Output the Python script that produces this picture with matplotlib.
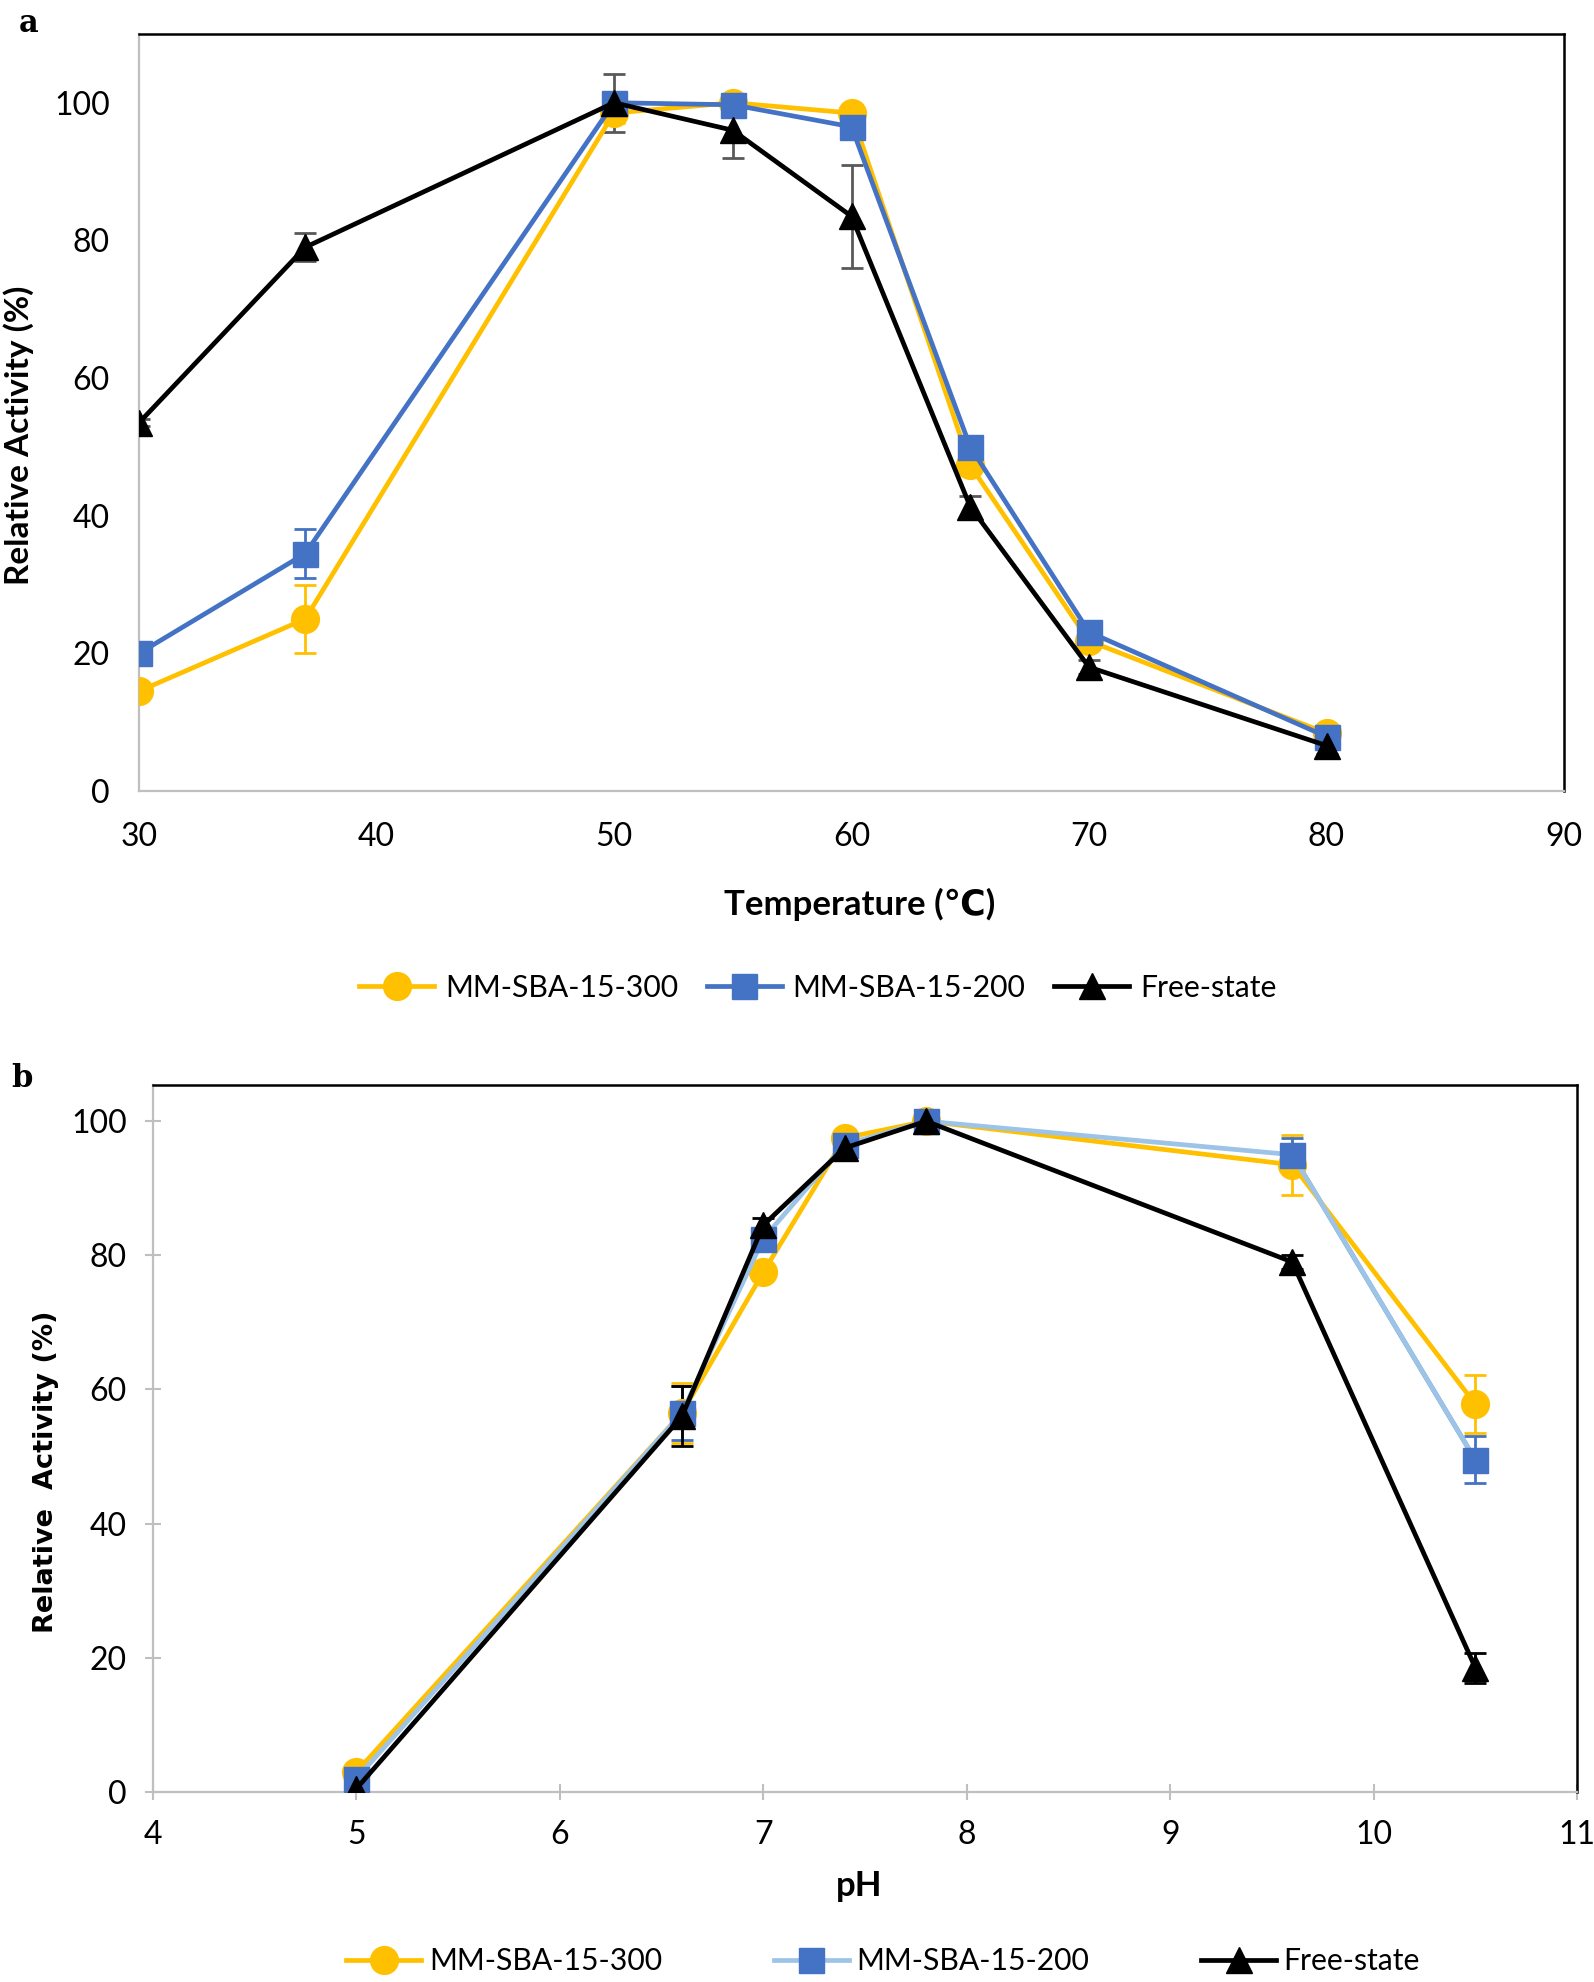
import matplotlib
matplotlib.use("Agg")
import matplotlib.pyplot as plt
from matplotlib import font_manager

# ---- data ----
temp = [30, 37, 50, 55, 60, 65, 70, 80]
temp_300 = [14.5, 25.0, 98.5, 100.0, 98.5, 47.3, 21.8, 8.4]
temp_300_err = [0.5, 5.0, 1.5, 1.0, 1.0, 1.0, 1.0, 1.0]
temp_200 = [20.0, 34.5, 100.0, 99.7, 96.5, 50.0, 23.1, 7.9]
temp_200_err = [0.5, 3.5, 1.0, 1.0, 1.5, 1.0, 1.0, 0.8]
temp_free = [53.5, 79.0, 100.0, 96.0, 83.5, 41.3, 18.0, 6.6]
temp_free_err = [0.5, 2.0, 4.2, 4.0, 7.5, 1.5, 1.0, 1.2]

ph = [5, 6.6, 7, 7.4, 7.8, 9.6, 10.5]
ph_300 = [3.0, 56.5, 77.5, 97.5, 100.0, 93.5, 57.8]
ph_300_err = [0.5, 4.5, 1.0, 1.0, 0.5, 4.5, 4.3]
ph_200 = [2.0, 56.5, 82.5, 96.5, 100.0, 95.0, 49.5]
ph_200_err = [0.5, 4.0, 1.5, 1.0, 0.5, 2.5, 3.5]
ph_free = [0.5, 56.0, 84.5, 96.0, 100.0, 79.0, 18.5]
ph_free_err = [0.3, 4.5, 1.0, 1.0, 0.5, 1.0, 2.2]

labels = ["MM-SBA-15-300", "MM-SBA-15-200", "Free-state"]

YELLOW = "#FFC000"
BLUE = "#4472C4"
LBLUE = "#9DC3E6"
MBLUE = "#5B9BD5"
GREY = "#BFBFBF"
ERRGREY = "#595959"


def has_font(name):
    try:
        font_manager.findfont(name, fallback_to_default=False)
        return True
    except Exception:
        return False


main_font = "Lato" if has_font("Lato") else "DejaVu Sans"
plt.rcParams["font.family"] = [main_font, "DejaVu Sans"]

FS = 23
LEG_FS = 21.7
LW = 3.4

fig = plt.figure(figsize=(15.94, 19.82), dpi=100)


def style_axes(ax, ticks):
    ax.spines["left"].set_color(GREY)
    ax.spines["bottom"].set_color(GREY)
    ax.spines["left"].set_linewidth(1.6)
    ax.spines["bottom"].set_linewidth(1.6)
    ax.spines["top"].set_color("black")
    ax.spines["right"].set_color("black")
    ax.spines["top"].set_linewidth(1.8)
    ax.spines["right"].set_linewidth(1.8)
    if ticks:
        ax.tick_params(axis="both", direction="inout", length=12, width=1.5,
                       color=GREY, labelsize=FS)
        ax.tick_params(axis="x", pad=14)
        ax.tick_params(axis="y", pad=13)
    else:
        ax.tick_params(axis="both", length=0, labelsize=FS)
        ax.tick_params(axis="x", pad=22)
        ax.tick_params(axis="y", pad=21)


def series(ax, x, y, err, color, marker, ms, errcolor, linecolor=None):
    lc = linecolor if linecolor else color
    h, = ax.plot(x, y, color=lc, lw=LW, marker=marker, ms=ms,
                 markerfacecolor=color, markeredgecolor=color, zorder=3)
    ax.errorbar(x, y, yerr=err, fmt="none", ecolor=errcolor, elinewidth=2,
                capsize=8, capthick=2, zorder=2.5)
    return h


# ---- panel a: temperature ----
ax1 = fig.add_axes([0.0872, 0.6009, 0.894, 0.382])
h1 = series(ax1, temp, temp_300, temp_300_err, YELLOW, "o", 20, YELLOW)
h2 = series(ax1, temp, temp_200, temp_200_err, BLUE, "s", 18, BLUE)
h3 = series(ax1, temp, temp_free, temp_free_err, "black", "^", 19, ERRGREY)
ax1.set_xlim(30, 90)
ax1.set_ylim(0, 110)
ax1.set_xticks(range(30, 91, 10))
ax1.set_yticks(range(0, 101, 20))
style_axes(ax1, False)
ax1.set_xlabel("Temperature (℃)", fontsize=25, fontweight="bold")
ax1.xaxis.set_label_coords(0.506, -0.128)
ax1.set_ylabel("Relative Activity (%)", fontsize=24, fontweight="bold")
ax1.yaxis.set_label_coords(-0.074, 0.47)
fig.text(0.012, 0.988, "a", fontsize=22, fontweight="bold",
         family="DejaVu Serif", va="center")

fig.legend([h1, h2, h3], labels, loc="center", bbox_to_anchor=(0.513, 0.5015),
           ncol=3, frameon=False, fontsize=LEG_FS, handlelength=2.5,
           handletextpad=0.35, columnspacing=0.95, borderpad=0)

# ---- panel b: pH ----
ax2 = fig.add_axes([0.096, 0.0959, 0.8934, 0.3567])
g1 = series(ax2, ph, ph_300, ph_300_err, YELLOW, "o", 20, YELLOW)
g2 = series(ax2, ph, ph_200, ph_200_err, BLUE, "s", 18, BLUE, linecolor=LBLUE)
ax2.plot(ph[-2:], ph_200[-2:], color=MBLUE, lw=LW, zorder=2.9)
g3 = series(ax2, ph, ph_free, ph_free_err, "black", "^", 19, "black")
ax2.set_xlim(4, 11)
ax2.set_ylim(0, 105.4)
ax2.set_xticks(range(4, 12))
ax2.set_yticks(range(0, 101, 20))
style_axes(ax2, True)
ax2.set_xlabel("pH", fontsize=25, fontweight="bold")
ax2.xaxis.set_label_coords(0.496, -0.11)
ax2.set_ylabel("Relative  Activity (%)", fontsize=19.5, fontweight="bold",
               family="DejaVu Sans")
ax2.yaxis.set_label_coords(-0.066, 0.453)
fig.text(0.007, 0.456, "b", fontsize=22, fontweight="bold",
         family="DejaVu Serif", va="center")

fig.legend([g1, g2, g3], labels, loc="center", bbox_to_anchor=(0.554, 0.0105),
           ncol=3, frameon=False, fontsize=LEG_FS, handlelength=2.5,
           handletextpad=0.25, columnspacing=3.7, borderpad=0)

fig.savefig("out.png", dpi=100)
